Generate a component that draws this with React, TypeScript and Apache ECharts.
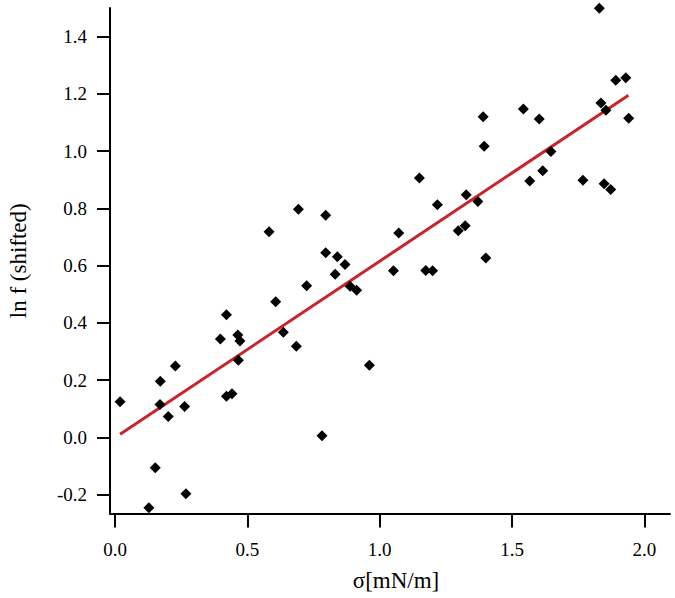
import React, { useEffect, useRef } from "react";
import * as echarts from "echarts";

// σ [mN/m]
const sigma: number[] = [
  0.019, 0.128, 0.152, 0.171, 0.170, 0.201, 0.228, 0.263, 0.268, 0.398,
  0.421, 0.421, 0.442, 0.464, 0.472, 0.466, 0.607, 0.636, 0.685, 0.724,
  0.796, 0.840, 0.869, 0.832, 0.888, 0.913, 0.961, 0.782, 0.582, 0.693,
  0.796, 1.830, 1.892, 1.930, 1.836, 1.855, 1.941, 1.391, 1.543, 1.603,
  1.395, 1.150, 1.647, 1.616, 1.567, 1.768, 1.848, 1.873, 1.218, 1.327,
  1.371, 1.072, 1.297, 1.323, 1.401, 1.052, 1.174, 1.200,
];
// ln f (shifted)
const lnF: number[] = [
  0.124, -0.246, -0.106, 0.196, 0.115, 0.073, 0.249, 0.108, -0.197, 0.344,
  0.428, 0.144, 0.152, 0.358, 0.337, 0.269, 0.474, 0.367, 0.318, 0.530,
  0.645, 0.631, 0.604, 0.570, 0.528, 0.514, 0.252, 0.006, 0.718, 0.797,
  0.776, 1.499, 1.248, 1.256, 1.168, 1.143, 1.115, 1.120, 1.147, 1.112,
  1.017, 0.906, 0.999, 0.931, 0.896, 0.898, 0.886, 0.866, 0.813, 0.848,
  0.824, 0.714, 0.722, 0.739, 0.627, 0.582, 0.583, 0.582,
];
// linear fit endpoints
const fitX: number[] = [0.019, 1.94];
const fitY: number[] = [0.0105, 1.195];

const xTicks: number[] = [0, 0.5, 1.0, 1.5, 2.0];
const yTicks: number[] = [-0.2, 0, 0.2, 0.4, 0.6, 0.8, 1.0, 1.2, 1.4];

const xName = "σ[mN/m]";
const yName = "ln f (shifted)";

const FONT = "Liberation Serif";

export default function App() {
  const ref = useRef<HTMLDivElement>(null);
  useEffect(() => {
    document.body.style.margin = "0";
    if (!ref.current) return;
    const chart = echarts.init(ref.current, undefined, { renderer: "svg" });
    const points = sigma.map((x, i) => [x, lnF[i]]);
    const fit = fitX.map((x, i) => [x, fitY[i]]);
    chart.setOption({
      animation: false,
      backgroundColor: "#ffffff",
      textStyle: { fontFamily: FONT },
      grid: {
        left: 110,
        right: 5,
        top: 8,
        bottom: 84.5,
        containLabel: false,
        outerBoundsMode: "none",
      },
      xAxis: {
        type: "value",
        min: -0.019,
        max: 2.097,
        name: xName,
        nameLocation: "middle",
        nameGap: 55,
        nameTextStyle: {
          fontFamily: FONT,
          fontSize: 23,
          color: "#000",
          padding: [0, 0, 0, 12],
        },
        axisLine: { show: true, onZero: false, lineStyle: { color: "#000", width: 2 } },
        axisTick: {
          show: true,
          inside: false,
          length: 14,
          lineStyle: { color: "#000", width: 2 },
          customValues: xTicks,
        },
        axisLabel: {
          show: true,
          margin: 26,
          fontFamily: FONT,
          fontSize: 19,
          color: "#000",
          customValues: xTicks,
          formatter: (v: number) => v.toFixed(1),
        },
        splitLine: { show: false },
      },
      yAxis: {
        type: "value",
        min: -0.266,
        max: 1.5,
        name: yName,
        nameLocation: "middle",
        nameGap: 80,
        nameTextStyle: { fontFamily: FONT, fontSize: 23, color: "#000" },
        axisLine: { show: true, onZero: false, lineStyle: { color: "#000", width: 2 } },
        axisTick: {
          show: true,
          inside: false,
          length: 13,
          lineStyle: { color: "#000", width: 2 },
          customValues: yTicks,
        },
        axisLabel: {
          show: true,
          margin: 23,
          fontFamily: FONT,
          fontSize: 19,
          color: "#000",
          customValues: yTicks,
          formatter: (v: number) => v.toFixed(1),
        },
        splitLine: { show: false },
      },
      series: [
        {
          type: "scatter",
          data: points,
          symbol: "diamond",
          symbolSize: 11,
          itemStyle: { color: "#000", opacity: 1 },
          z: 3,
        },
        {
          type: "line",
          data: fit,
          showSymbol: false,
          symbol: "none",
          lineStyle: { color: "#C8242B", width: 3 },
          z: 2,
        },
      ],
    });
    return () => chart.dispose();
  }, []);
  return <div ref={ref} style={{ width: 675, height: 598 }} />;
}
